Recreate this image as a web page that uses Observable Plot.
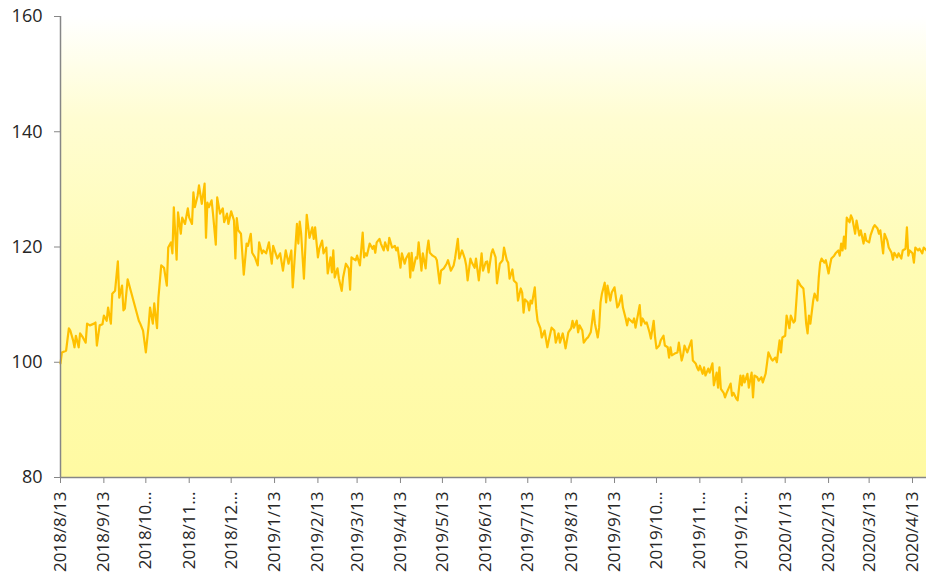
<!DOCTYPE html>
<html>
<head>
<meta charset="utf-8">
<script src="https://cdn.jsdelivr.net/npm/d3@7"></script>
<script src="https://cdn.jsdelivr.net/npm/@observablehq/plot@0.6"></script>
<style>
  html, body { margin: 0; padding: 0; background: #ffffff; overflow: hidden; }
</style>
</head>
<body>
<div id="chart"></div>
<script>
// ---- data ----
const startDate = "2018-08-13";
// days since startDate
const dayOffsets = [
0,1,4,6,7,9,10,11,13,14,16,18,19,21,24,25,26,28,30,31,33,34,36,37,39,41,42,44,45,46,48,
56,57,59,61,63,64,66,67,69,70,72,74,76,77,79,80,81,83,84,86,87,89,91,92,94,95,96,98,99,
101,103,104,105,106,108,109,111,112,114,116,117,119,120,122,124,125,126,127,129,131,133,134,136,137,139,
141,142,144,145,147,149,151,152,155,157,159,161,163,165,166,169,170,171,172,174,175,176,178,180,181,182,
184,185,187,188,190,191,193,194,195,196,198,199,201,202,204,206,207,208,209,211,212,214,216,217,218,219,
221,223,224,225,226,228,229,231,232,234,235,237,239,240,241,243,244,246,247,249,250,251,252,254,255,256,
258,259,261,262,263,264,266,268,269,271,272,274,276,277,279,281,282,284,285,287,289,290,291,293,294,296,
297,299,301,302,304,305,306,308,309,311,312,314,316,317,319,320,321,323,324,326,327,329,330,331,332,334,
335,336,337,339,340,341,343,344,346,348,349,351,353,354,356,357,359,360,361,363,365,366,367,369,370,371,
373,374,376,377,379,381,382,384,385,386,387,389,390,391,393,394,396,398,399,401,402,404,405,406,409,410,
411,413,414,415,416,418,419,421,422,424,425,426,428,429,431,432,434,435,436,437,439,441,442,444,445,446,
448,449,451,452,454,455,456,457,459,460,461,463,464,466,467,469,470,471,472,474,475,476,479,480,481,483,
484,486,487,488,489,491,492,494,495,496,498,499,501,502,504,505,506,508,509,511,512,514,515,516,518,519,
521,522,524,525,526,527,529,531,532,533,534,535,536,538,539,541,542,543,544,546,547,549,550,551,553,554,
556,557,558,559,560,561,562,564,565,566,568,569,571,572,574,575,576,578,579,581,582,584,585,586,588,589,
591,592,594,595,596,598,599,601,602,604,605,606,607,609,610,611,613,614,616,617,619
];
const values = [
99.8,101.7,102,105.9,105.5,103.8,102.6,104.6,102.6,105,104.3,103.4,106.7,106.4,106.7,106.9,102.9,106.4,106.6,108.1,107.2,109.5,106.7,111.9,112.4,117.5,111.2,113.3,109,109.3,114.4,
107.2,106.7,105.5,101.7,106.4,109.5,106.7,110.2,105.9,111.2,116.8,116.4,113.3,119.9,120.8,118.9,126.9,117.8,126,122.3,125.1,124,126.7,125.1,124,129.5,126.9,128.9,130.7,
127.5,131,121.6,127.7,126.9,128.1,125.8,120.4,128.6,125.8,126.7,124.3,125.8,124,126.2,124.6,118,125,122.9,122.3,115.2,120.6,120.2,122.3,119,118.2,
116.8,120.8,118.9,119.4,118.9,120.8,117.1,120.2,118,118.9,115.9,119.4,117.1,119.4,113,124,120.6,124.4,122.3,114.5,119.9,125.6,121.6,123.4,121.4,123.4,
118.2,119.7,121.1,118.9,119.9,115.4,118.2,115.6,119.4,114.7,116.3,114.5,112.4,114.7,117.1,116.3,112.6,118.2,118,117.7,118.5,116.8,122.5,118.2,118.9,118.5,
120.6,119.7,120.2,119,120.8,121.4,120.6,119.4,120.8,119.4,121.6,119.9,120.2,119.4,119.9,116.4,118.9,117.1,118,118.9,114.7,119,115.9,118.2,118,120.8,
115.9,118.9,116.3,119.4,121.1,119,118.5,118.2,117.7,113.7,115.9,116.3,117.1,117.7,115.9,116.8,118,121.4,118,119.4,118,116.8,114.2,118,117.3,116.4,
118,114.2,118.9,115.9,117.4,117.5,115.6,118.9,119.6,118.2,113.7,117.1,117.7,119.9,117.7,117.3,114.5,116.1,114.2,113.7,110.7,112.8,112.1,108.6,110.9,110.4,
109,110.7,110.2,113,109.3,107.2,105.9,104.3,105.5,102.6,103.8,106,105.5,103.4,105,103.4,105,103.8,102.4,105.2,105.9,107.2,106,107.2,105.2,106.4,
105.5,103.4,104.1,104.3,105.2,109,106.7,104.3,106,110.4,111.9,113.8,110.4,113.3,110.7,112.1,113,109.5,109.9,111.6,109.5,107.6,106.4,107.6,106.9,107.6,
106,108.6,109.9,106.4,107.6,106.7,106.9,105.2,104.1,107.2,104.3,102.4,102.9,103.8,104.6,102.9,102.6,100.8,102.6,101.2,101.5,101.7,103.4,100.3,101.2,102.9,
101.7,102.4,103.8,100.3,99.8,99.1,98.6,99.4,98,99.1,97.7,98.9,98.2,99.8,96,98.2,95.6,99.1,95.4,94.7,93.9,94.6,96.3,94.2,94.7,93.7,
93.4,97.7,96,97.7,96.5,98,95.6,98.2,93.9,97.7,97.4,96.8,97.4,96.5,98,99.8,101.7,100.6,100.3,100.8,100,103.8,101.7,104.3,104.6,108.1,
105.9,108.1,106.9,107.2,110.7,114.2,113.3,112.8,110.2,106.7,105,108.1,106.7,110.7,111.9,110.7,114.7,117.3,118,117.3,117.7,115.4,116.8,118,118.5,118.9,
119.4,118.5,120.6,119.4,121.8,119.7,125.1,124.3,125.5,124.9,122.3,124.6,122,122.9,120.6,122.3,121.1,120.8,122,123.4,123.8,123.2,122.3,122.9,118.9,122.3,
121.1,119.9,119,117.8,119,118.2,118.9,118,119.4,119.7,123.4,118.5,119.4,118.9,117.3,119.9,119.4,119.7,118.9,119.9,119.4
];
const tickDateStrings = [
"2018-08-13","2018-09-13","2018-10-13","2018-11-13","2018-12-13",
"2019-01-13","2019-02-13","2019-03-13","2019-04-13","2019-05-13","2019-06-13",
"2019-07-13","2019-08-13","2019-09-13","2019-10-13","2019-11-13","2019-12-13",
"2020-01-13","2020-02-13","2020-03-13","2020-04-13"
];
const tickLabels = [
"2018/8/13","2018/9/13","2018/10…","2018/11…","2018/12…",
"2019/1/13","2019/2/13","2019/3/13","2019/4/13","2019/5/13","2019/6/13",
"2019/7/13","2019/8/13","2019/9/13","2019/10…","2019/11…","2019/12…",
"2020/1/13","2020/2/13","2020/3/13","2020/4/13"
];
const yTicks = [80, 100, 120, 140, 160];
const yDomain = [80, 160];

// ---- build ----
const parse = d3.utcParse("%Y-%m-%d");
const start = parse(startDate);
const data = dayOffsets.map((d, i) => ({date: d3.utcDay.offset(start, d), value: values[i]}));
const tickDates = tickDateStrings.map(parse);
const labelMap = new Map(tickDates.map((d, i) => [+d, tickLabels[i]]));
const endDate = data[data.length - 1].date;

function background(index, scales, values, dim) {
  const g = d3.create("svg:g");
  const lg = g.append("defs").append("linearGradient")
    .attr("id", "bgGrad").attr("x1", 0).attr("x2", 0).attr("y1", 0).attr("y2", 1);
  [["0%", "#FFFFFF"], ["22%", "#FFFDD2"], ["55%", "#FFFCB4"], ["100%", "#FFFAA2"]]
    .forEach(([o, c]) => lg.append("stop").attr("offset", o).attr("stop-color", c));
  g.append("rect")
    .attr("x", dim.marginLeft).attr("y", dim.marginTop)
    .attr("width", dim.width - dim.marginLeft - dim.marginRight)
    .attr("height", dim.height - dim.marginTop - dim.marginBottom)
    .attr("fill", "url(#bgGrad)");
  return g.node();
}

const axisGray = "#868686";
const textColor = "#262626";

const chart = Plot.plot({
  width: 926,
  height: 587,
  marginLeft: 60,
  marginRight: 0,
  marginTop: 16,
  marginBottom: 110,
  style: {fontFamily: "'Open Sans', sans-serif", background: "#ffffff", overflow: "visible"},
  x: {type: "utc", domain: [start, endDate]},
  y: {domain: yDomain},
  marks: [
    background,
    Plot.axisY({ticks: yTicks, tickSize: 6, tickPadding: 12, stroke: axisGray, fill: textColor, fontSize: 18, label: null}),
    Plot.axisX({ticks: tickDates, tickFormat: d => labelMap.get(+d), tickRotate: -90, tickSize: 6, tickPadding: 8,
                stroke: axisGray, fill: textColor, fontSize: 17, label: null}),
    Plot.line(data, {x: "date", y: "value", stroke: "#FFC000", strokeWidth: 2.2, strokeLinejoin: "round"}),
    Plot.ruleX([start], {stroke: axisGray, strokeWidth: 1.5}),
    Plot.ruleY([yDomain[0]], {stroke: axisGray, strokeWidth: 1.5})
  ]
});
document.getElementById("chart").appendChild(chart);
</script>
</body>
</html>
